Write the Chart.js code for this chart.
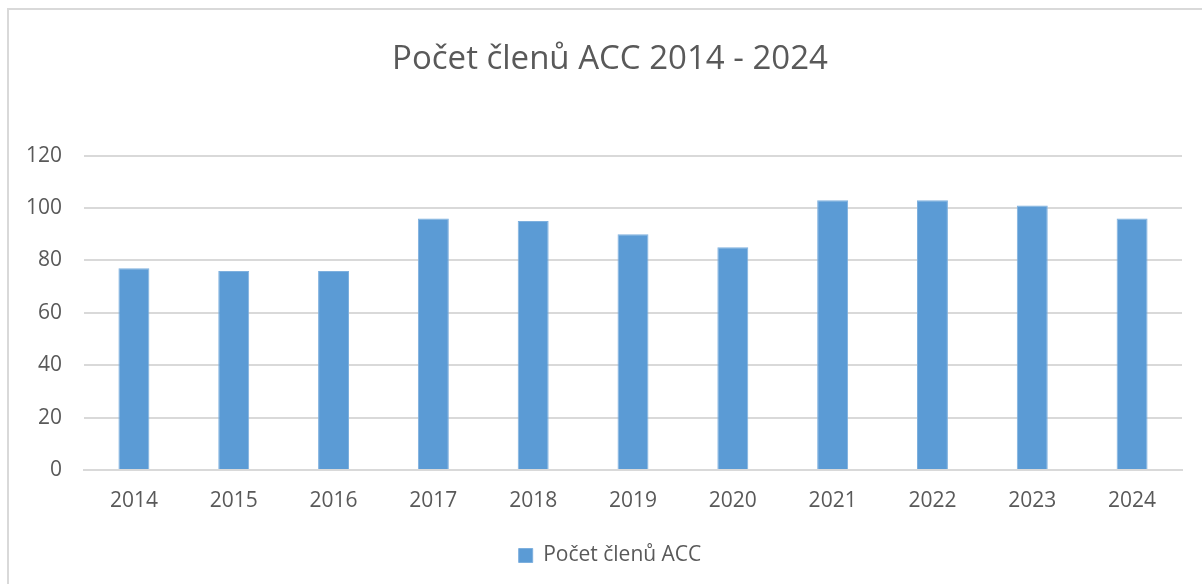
<!DOCTYPE html>
<html>
<head>
<meta charset="utf-8">
<script src="https://cdn.jsdelivr.net/npm/chart.js@4/dist/chart.umd.min.js"></script>
<style>
    html, body { margin:0; padding:0; background:#fff; overflow:hidden; }
    #frame {
        position:absolute; left:7px; top:8px; width:1200px; height:590px;
        border-top:2px solid #d9d9d9; border-left:2px solid #d9d9d9;
    }
    #wrap { position:absolute; left:0; top:0; width:1202px; height:584px; }
</style>
</head>
<body>
<div id="frame"></div>
<div id="wrap"><canvas id="membersChart"></canvas></div>

<script>
const years = ["2014","2015","2016","2017","2018","2019","2020","2021","2022","2023","2024"];
const members = [77, 76, 76, 96, 95, 90, 85, 103, 103, 101, 96];
const yTicks = [0, 20, 40, 60, 80, 100, 120];

const seriesName = "Počet členů ACC";
const chartTitle = "Počet členů ACC 2014 - 2024";

window.addEventListener("DOMContentLoaded", drawChart);

function drawChart(){

    const textColor = "#595959";
    const gridColor = "#d9d9d9";
    const font = "'Open Sans', 'DejaVu Sans', sans-serif";

    new Chart(
        document.getElementById("membersChart"),
        {
            type:"bar",
            data:{
                labels:years,
                datasets:[{
                    label:seriesName,
                    data:members,
                    backgroundColor:"#5b9bd5",
                    borderColor:"#7eb0de",
                    borderWidth:1,
                    categoryPercentage:1,
                    barPercentage:0.31
                }]
            },
            options:{
                responsive:true,
                maintainAspectRatio:false,
                animation:false,
                layout:{ padding:{ left:18, right:0, top:0, bottom:8 } },
                plugins:{
                    title:{
                        display:true,
                        text:chartTitle,
                        color:textColor,
                        font:{ family:font, size:33, weight:"normal" },
                        padding:{ top:40, bottom:76 }
                    },
                    legend:{
                        position:"bottom",
                        labels:{
                            color:textColor,
                            font:{ family:font, size:21 },
                            boxWidth:14,
                            boxHeight:14,
                            padding:10
                        }
                    },
                    tooltip:{ enabled:false }
                },
                scales:{
                    x:{
                        grid:{ display:false, drawTicks:false },
                        border:{ color:gridColor, width:2 },
                        ticks:{
                            color:textColor,
                            font:{ family:font, size:21 },
                            padding:18,
                            maxRotation:0
                        },
                        afterFit:function(scale){ scale.height = 65; }
                    },
                    y:{
                        min:0,
                        max:120,
                        grid:{ color:gridColor, lineWidth:2, drawTicks:false },
                        border:{ display:false },
                        afterBuildTicks:function(scale){
                            scale.ticks = yTicks.map(v => ({ value:v }));
                        },
                        ticks:{
                            color:textColor,
                            font:{ family:font, size:21 },
                            padding:22
                        },
                        afterFit:function(scale){ scale.width = 66; }
                    },
                    // empty strip on the right so the plot ends where the reference does
                    yRight:{
                        position:"right",
                        display:true,
                        grid:{ display:false, drawTicks:false },
                        border:{ display:false },
                        ticks:{ display:false },
                        afterFit:function(scale){ scale.width = 20; }
                    }
                }
            }
        }
    );

}
</script>
</body>
</html>
